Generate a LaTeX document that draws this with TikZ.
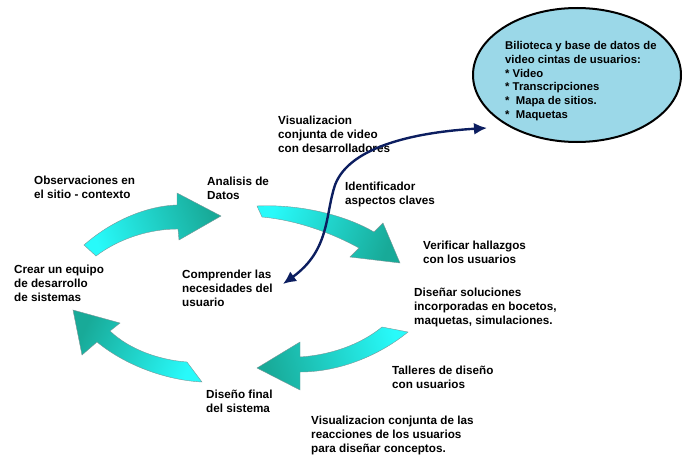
\documentclass[tikz,border=0pt]{standalone}
\usepackage{fontspec}
\setmainfont{Liberation Sans}
\usetikzlibrary{arrows.meta,shapes.geometric}

\definecolor{bandtail}{RGB}{40,250,250}
\definecolor{bandhead}{RGB}{24,170,152}
\definecolor{bandedge}{RGB}{120,150,150}
\definecolor{libfill}{RGB}{155,216,232}
\definecolor{navy}{RGB}{12,30,96}

% multi-line labels are placed by the baseline of their last line
\tikzset{
  lbl/.style={anchor=base west, inner sep=0pt, align=left,
    font=\fontsize{11.7}{13.8}\selectfont\bfseries},
  liblbl/.style={anchor=base west, inner sep=0pt, align=left,
    font=\fontsize{11.3}{13.8}\selectfont\bfseries},
  band/.style={draw=bandedge, line width=0.4pt},
  libnode/.style={ellipse, draw=black, line width=2pt, fill=libfill,
    minimum width=208pt, minimum height=134pt, inner sep=0pt},
  link/.style={draw=navy, line width=2.4pt,
    {Latex[length=13pt,width=12pt]}-{Latex[length=13pt,width=12pt]}}
}

\begin{document}
\begin{tikzpicture}[x=1pt,y=-1pt]
\useasboundingbox (0,0) rectangle (683,455);

% library of user video tapes
\node[libnode] (lib) at (577,75) {};
\node[liblbl] (libtxt) at (505,118.5) {Bilioteca y base de datos de\\
video cintas de usuarios:\\
* Video\\
* Transcripciones\\
*\ \ Mapa de sitios.\\
*\ \ Maquetas};

% cycle of curved block arrows
\path[band, left color=bandtail, right color=bandhead, shading angle=90+20]
  (84,245) .. controls (110,222) and (145,206) .. (177,205)
  -- (177,193) -- (221,216) -- (179,240) -- (178,229)
  .. controls (150,229) and (120,238) .. (96,256) -- cycle;

\path[band, left color=bandtail, right color=bandhead, shading angle=90-20]
  (257,206) .. controls (300,204) and (345,215) .. (374,232)
  -- (383,223) -- (400,263) -- (350,257) -- (359,248)
  .. controls (330,232) and (295,220) .. (262,217) -- cycle;

\path[band, left color=bandhead, right color=bandtail, shading angle=90+15]
  (382,327) .. controls (360,345) and (330,355) .. (300,357)
  -- (300,342) -- (257,368) -- (300,390) -- (300,372)
  .. controls (340,372) and (380,355) .. (408,332) -- cycle;

\path[band, left color=bandhead, right color=bandtail, shading angle=90-25]
  (187,362) .. controls (160,360) and (130,350) .. (110,331)
  -- (120,323) -- (73,310) -- (82,355) -- (97,342)
  .. controls (125,365) and (165,380) .. (202,382) -- cycle;

% step labels
\node[lbl] (obs) at (34,198.5) {Observaciones en\\el sitio - contexto};
\node[lbl] (ana) at (207,199.5) {Analisis de\\Datos};
\node[lbl] (vis) at (278,152.5) {Visualizacion\\conjunta de video\\con desarrolladores};
\node[lbl] (ide) at (345,204) {Identificador\\aspectos claves};
\node[lbl] (ver) at (423,263.5) {Verificar hallazgos\\con los usuarios};
\node[lbl] (dis) at (414,324.5) {Diseñar soluciones\\incorporadas en bocetos,\\maquetas, simulaciones.};
\node[lbl] (tal) at (392,388.5) {Talleres de diseño\\con usuarios};
\node[lbl] (rea) at (311,452) {Visualizacion conjunta de las\\reacciones de los usuarios\\para diseñar conceptos.};
\node[lbl] (fin) at (206,412) {Diseño final\\del sistema};
\node[lbl] (equ) at (14,301.5) {Crear un equipo\\de desarrollo\\de sistemas};
\node[lbl] (com) at (182,306.5) {Comprender las\\necesidades del\\usuario};

% two-way link between user needs and the library
\coordinate (usrend) at (283,284);
\coordinate (libend) at (487,128);
\draw[link] (usrend) .. controls (330,250) and (325,215) .. (335,185)
  .. controls (350,145) and (420,132) .. (libend);
\end{tikzpicture}
\end{document}
